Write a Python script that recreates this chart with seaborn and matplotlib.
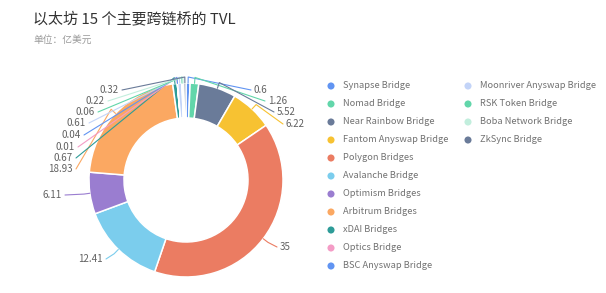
import numpy as np
import matplotlib
matplotlib.use("Agg")
import matplotlib.pyplot as plt
import seaborn as sns

# ---- data ----
names = ["Synapse Bridge", "Nomad Bridge", "Near Rainbow Bridge", "Fantom Anyswap Bridge",
         "Polygon Bridges", "Avalanche Bridge", "Optimism Bridges", "Arbitrum Bridges",
         "xDAI Bridges", "Optics Bridge", "BSC Anyswap Bridge", "Moonriver Anyswap Bridge",
         "RSK Token Bridge", "Boba Network Bridge", "ZkSync Bridge"]
values = [0.6, 1.26, 5.52, 6.22, 35, 12.41, 6.11, 18.93, 0.67, 0.01, 0.04, 0.61, 0.06, 0.22, 0.32]
colors = ["#6194F2", "#62D6AA", "#6A7B99", "#F7C232", "#EB7C62", "#7BCDED", "#9A7DD0",
          "#FBA862", "#2E9C98", "#F49CC6", "#6194F2", "#C3D4F8", "#62D6AA", "#C2EEDD", "#6A7B99"]
title = "以太坊 15 个主要跨链桥的 TVL"
subtitle = "单位：亿美元"

# ---- style ----
sns.set_theme(style="white")
plt.rcParams['font.family'] = ['Noto Sans CJK SC', 'DejaVu Sans']

W, H = 606, 293
fig = plt.figure(figsize=(W / 100, H / 100), dpi=100)
ax = fig.add_axes([0, 0, 1, 1])


def Y(y):
    return H - y


CX, CY, R, RW = 186, 180, 97, 35
wedges, _ = ax.pie(values, colors=colors, startangle=90, counterclock=False,
                   center=(CX, Y(CY)), radius=R,
                   wedgeprops=dict(width=RW, edgecolor="white", linewidth=1.1))
ax.set_xlim(0, W)
ax.set_ylim(0, H)
ax.set_aspect("auto")
ax.axis("off")

# label layout (pixel positions of label text)
label_pos = {
    0: (254, 90, "left"), 1: (268, 101, "left"), 2: (277, 112, "left"), 3: (286, 124, "left"),
    4: (280, 247, "left"), 5: (103, 259, "right"), 6: (62, 195, "right"),
    7: (73, 169, "right"), 8: (73, 158, "right"), 9: (75, 147, "right"),
    10: (81, 135, "right"), 11: (86, 123, "right"), 12: (95, 112, "right"),
    13: (105, 101, "right"), 14: (119, 90, "right"),
}

for i, w in enumerate(wedges):
    ang = np.deg2rad((w.theta1 + w.theta2) / 2)
    ax_x, ax_y = w.center[0] + R * np.cos(ang), w.center[1] + R * np.sin(ang)
    ex, ey = w.center[0] + (R + 6) * np.cos(ang), w.center[1] + (R + 6) * np.sin(ang)
    lx, ly, ha = label_pos[i]
    endx = lx - 3 if ha == "left" else lx + 3
    ax.plot([ax_x, ex, endx], [ax_y, ey, Y(ly)], color=colors[i], lw=0.8,
            solid_capstyle="round", zorder=1)
    ax.text(lx, Y(ly), f"{values[i]:g}", ha=ha, va="center", fontsize=7,
            color="#616161")

# legend
for i, name in enumerate(names):
    col, row = (0, i) if i < 11 else (1, i - 11)
    cx = 331 if col == 0 else 468
    cy = 86 + 18 * row
    ax.scatter([cx], [Y(cy)], s=26, color=colors[i], edgecolors="none", zorder=3)
    ax.text(cx + 12, Y(cy), name, ha="left", va="center", fontsize=6.7, color="#727272")

fig.text(33 / W, 1 - 18.5 / H, title, ha="left", va="center", fontsize=10.8, color="#333333")
fig.text(33 / W, 1 - 40 / H, subtitle, ha="left", va="center", fontsize=7, color="#9a9a9a")

fig.savefig("out.png", dpi=100, facecolor="white")
